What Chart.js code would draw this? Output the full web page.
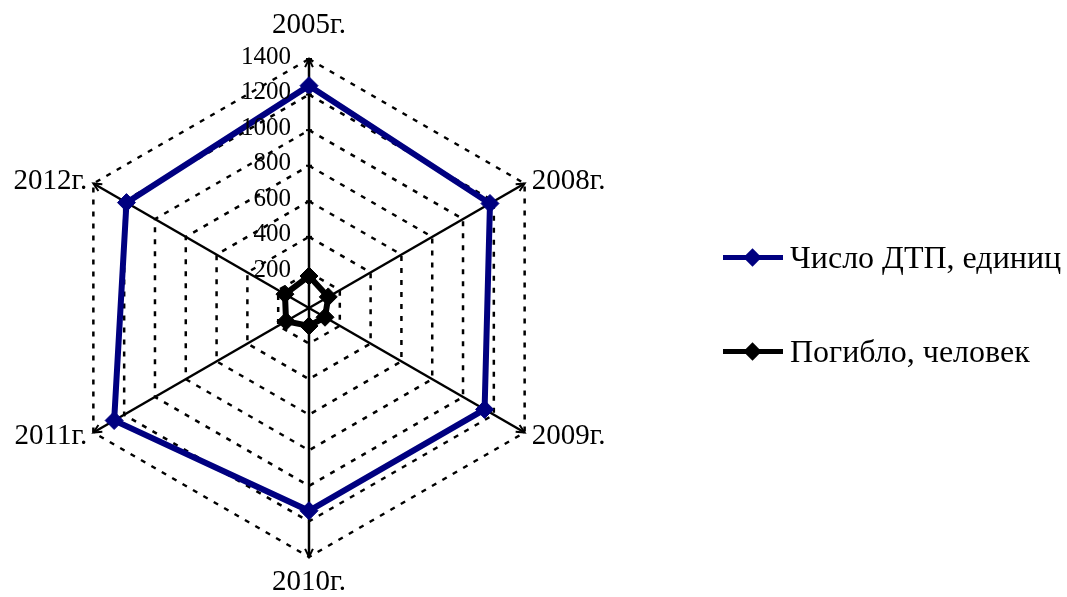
<!DOCTYPE html>
<html lang="ru">
<head>
    <meta charset="UTF-8">
    <title>ДТП</title>
    <script src="https://cdn.jsdelivr.net/npm/chart.js"></script>
    <style>
        body {
            margin: 0;
            padding: 0;
            background: #fff;
            font-family: 'Liberation Serif', 'Times New Roman', serif;
        }

        .wrap {
            position: relative;
            width: 1067px;
            height: 597px;
        }

        .wrap canvas {
            position: absolute;
            left: 0;
            top: 0;
        }

        .legend {
            position: absolute;
            left: 723px;
            top: 0;
        }

        .legend-item {
            position: absolute;
            left: 0;
            white-space: nowrap;
            font-size: 32px;
            color: #000;
            line-height: 32px;
        }

        .legend-item .mark {
            position: absolute;
            left: 0;
            top: 14px;
            width: 60px;
            height: 5px;
        }

        .legend-item .mark::after {
            content: '';
            position: absolute;
            left: 23px;
            top: -4px;
            width: 13px;
            height: 13px;
            background: inherit;
            transform: rotate(45deg);
        }

        .legend-item span {
            position: absolute;
            left: 67px;
            top: 0;
        }
    </style>
</head>
<body>
    <div class="wrap">
        <canvas id="radarChart"></canvas>
        <div class="legend" id="legend"></div>
    </div>

    <script>
        var years = ['2005г.', '2008г.', '2009г.', '2010г.', '2011г.', '2012г.'];
        var accidents = [1250, 1175, 1140, 1140, 1265, 1185];
        var deaths = [180, 125, 104, 101, 149, 156];
        var seriesNames = ['Число ДТП, единиц', 'Погибло, человек'];
        var seriesColors = ['#000080', '#000000'];
        var tickValues = [200, 400, 600, 800, 1000, 1200, 1400];

        var tickFont = '25px "Liberation Serif", "Times New Roman", serif';
        var catFont = '29px "Liberation Serif", "Times New Roman", serif';

        // tick labels, category labels, arrows and small axis ticks
        var extrasPlugin = {
            id: 'extras',
            afterDraw: function (chart) {
                var scale = chart.scales.r;
                var ctx = chart.ctx;
                var cx = scale.xCenter;
                var cy = scale.yCenter;
                ctx.save();
                ctx.fillStyle = '#000';
                ctx.strokeStyle = '#000';
                ctx.lineWidth = 2;
                ctx.font = tickFont;

                // value labels left of the first axis
                ctx.textAlign = 'right';
                ctx.textBaseline = 'middle';
                tickValues.forEach(function (v) {
                    var d = scale.getDistanceFromCenterForValue(v);
                    ctx.fillText(String(v), cx - 18, cy - d - 2);
                    ctx.beginPath();
                    ctx.moveTo(cx - 3, cy - d);
                    ctx.lineTo(cx + 3, cy - d);
                    ctx.stroke();
                });

                // arrows at axis ends
                var max = scale.max;
                years.forEach(function (y, i) {
                    var p = scale.getPointPositionForValue(i, max);
                    var ang = Math.atan2(p.y - cy, p.x - cx);
                    var len = 9, spread = 0.45;
                    ctx.beginPath();
                    ctx.moveTo(p.x - len * Math.cos(ang - spread), p.y - len * Math.sin(ang - spread));
                    ctx.lineTo(p.x, p.y);
                    ctx.lineTo(p.x - len * Math.cos(ang + spread), p.y - len * Math.sin(ang + spread));
                    ctx.stroke();
                });

                // category labels
                ctx.font = catFont;
                years.forEach(function (y, i) {
                    var p = scale.getPointPositionForValue(i, max);
                    var dx = p.x - cx;
                    if (Math.abs(dx) < 1) {
                        ctx.textAlign = 'center';
                        ctx.fillText(y, p.x, p.y < cy ? p.y - 34 : p.y + 25);
                    } else if (dx > 0) {
                        ctx.textAlign = 'left';
                        ctx.fillText(y, p.x + 7, p.y + (p.y < cy ? -2 : 4));
                    } else {
                        ctx.textAlign = 'right';
                        ctx.fillText(y, p.x - 6, p.y + (p.y < cy ? -2 : 4));
                    }
                });
                ctx.restore();
            }
        };

        var ctxRadar = document.getElementById('radarChart').getContext('2d');
        var radarChart = new Chart(ctxRadar, {
            type: 'radar',
            data: {
                labels: years,
                datasets: [{
                    label: seriesNames[0],
                    data: accidents,
                    borderColor: seriesColors[0],
                    backgroundColor: seriesColors[0],
                    pointBackgroundColor: seriesColors[0],
                    pointBorderColor: seriesColors[0],
                    borderWidth: 6,
                    pointStyle: 'rectRot',
                    pointRadius: 9,
                    pointBorderWidth: 1,
                    fill: false
                }, {
                    label: seriesNames[1],
                    data: deaths,
                    borderColor: seriesColors[1],
                    backgroundColor: seriesColors[1],
                    pointBackgroundColor: seriesColors[1],
                    pointBorderColor: seriesColors[1],
                    borderWidth: 6,
                    pointStyle: 'rectRot',
                    pointRadius: 9,
                    pointBorderWidth: 1,
                    fill: false
                }]
            },
            options: {
                responsive: true,
                maintainAspectRatio: false,
                animation: false,
                layout: {
                    padding: { left: 60, right: 509, top: 59, bottom: 40 }
                },
                plugins: {
                    legend: { display: false },
                    tooltip: { enabled: false }
                },
                elements: {
                    line: { tension: 0 }
                },
                scales: {
                    r: {
                        min: 0,
                        max: 1400,
                        ticks: { stepSize: 200, display: false },
                        pointLabels: { display: false },
                        grid: {
                            color: '#000',
                            lineWidth: 2.5
                        },
                        border: {
                            dash: [5, 7]
                        },
                        angleLines: {
                            color: '#000',
                            lineWidth: 2.5
                        }
                    }
                }
            },
            plugins: [extrasPlugin]
        });

        // legend
        var legend = document.getElementById('legend');
        var legendTops = [241, 335];
        seriesNames.forEach(function (name, i) {
            var item = document.createElement('div');
            item.className = 'legend-item';
            item.style.top = legendTops[i] + 'px';
            var mark = document.createElement('div');
            mark.className = 'mark';
            mark.style.background = seriesColors[i];
            var txt = document.createElement('span');
            txt.textContent = name;
            item.appendChild(mark);
            item.appendChild(txt);
            legend.appendChild(item);
        });
    </script>
</body>
</html>
